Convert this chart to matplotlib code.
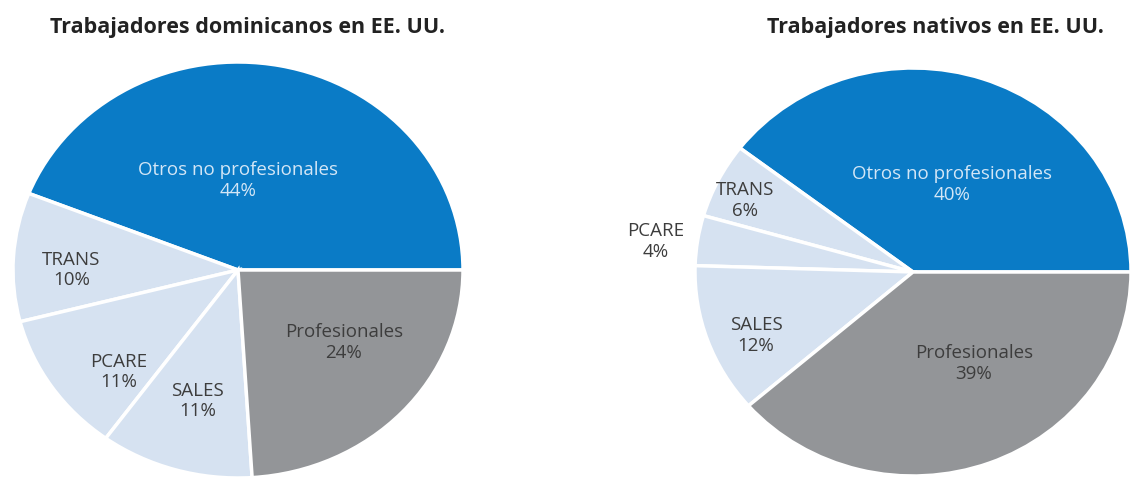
import matplotlib.pyplot as plt

plt.rcParams['font.family'] = ['Open Sans', 'DejaVu Sans']

# data
categories = ['Otros no profesionales', 'TRANS', 'PCARE', 'SALES', 'Profesionales']
dominicanos = [44, 10, 11, 11, 24]
nativos = [40, 6, 4, 12, 39]
titles = ['Trabajadores dominicanos en EE. UU.', 'Trabajadores nativos en EE. UU.']

colors = ['#0a7bc6', '#d6e2f1', '#d6e2f1', '#d6e2f1', '#939598']
text_colors = ['#d3e6f6', '#3d3d3d', '#3d3d3d', '#3d3d3d', '#3d3d3d']

# label placement (pie units), per chart
label_pos = [
    [(0.0, 0.43), (-0.74, 0.0), (-0.53, -0.49), (-0.18, -0.63), (0.47, -0.35)],
    [(0.18, 0.43), (-0.77, 0.35), (-1.18, 0.15), (-0.72, -0.31), (0.28, -0.45)],
]

W, H = 1136, 482
fig = plt.figure(figsize=(W / 100, H / 100), dpi=100)

# axes boxes in pixels: left, top, right, bottom
boxes = [(13, 62, 463, 478), (695, 68, 1131, 476)]
title_x = [247, 935]

for i, values in enumerate([dominicanos, nativos]):
    l, t, r, b = boxes[i]
    ax = fig.add_axes([l / W, (H - b) / H, (r - l) / W, (b - t) / H])
    ax.pie(values, colors=colors, startangle=0, counterclock=True,
           wedgeprops=dict(edgecolor='white', linewidth=2.5))
    ax.set_aspect('auto')
    ax.set_xlim(-1, 1)
    ax.set_ylim(-1, 1)
    ax.axis('off')
    for cat, v, (x, y), tc in zip(categories, values, label_pos[i], text_colors):
        ax.text(x, y, f'{cat}\n{v}%', ha='center', va='center', fontsize=13.5,
                color=tc, linespacing=1.2, clip_on=False)
    fig.text(title_x[i] / W, 1 - 28 / H, titles[i], ha='center', va='center',
             fontsize=15.5, fontweight='bold', color='#222222')

fig.savefig('out.png', dpi=100)
